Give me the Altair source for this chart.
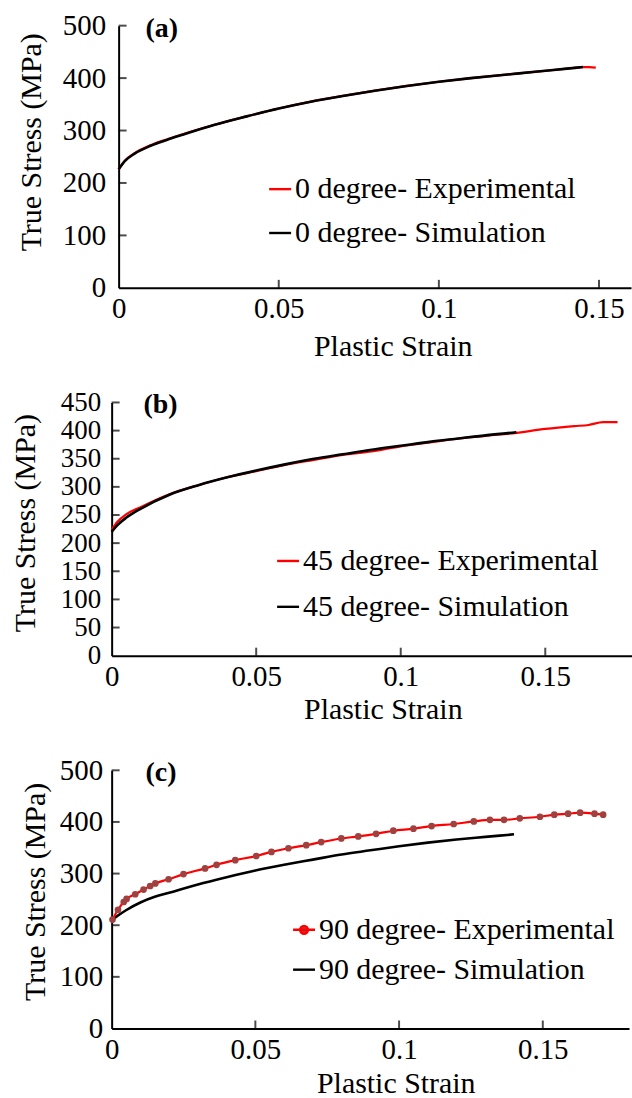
import altair as alt
import pandas as pd

FONT = "Liberation Serif"
RED = "#ff0000"
BLACK = "#000000"
MARKER = "#a0413f"

# ---------------- Panel (a) : 0 degree ----------------
A_EXP_X = [0, 0.002, 0.005, 0.01, 0.015, 0.02, 0.03, 0.04, 0.05, 0.06, 0.07, 0.08,
           0.09, 0.1, 0.11, 0.12, 0.13, 0.14, 0.145, 0.147, 0.149]
A_EXP_Y = [226, 243, 257, 272, 283, 293, 311, 327, 342, 355, 366, 376,
           385, 393, 400, 406, 412, 418, 421, 421, 420]
A_SIM_X = [0, 0.002, 0.005, 0.01, 0.015, 0.02, 0.03, 0.04, 0.05, 0.06, 0.07, 0.08,
           0.09, 0.1, 0.11, 0.12, 0.13, 0.14, 0.145]
A_SIM_Y = [226, 242, 256, 271, 282, 292, 311, 327, 342, 355, 366, 376,
           385, 393, 400, 406, 412, 418, 421]

# ---------------- Panel (b) : 45 degree ----------------
B_EXP_X = [0, 0.002, 0.005, 0.01, 0.02, 0.03, 0.04, 0.05, 0.06, 0.07, 0.08, 0.09,
           0.1, 0.11, 0.12, 0.13, 0.14, 0.15, 0.16, 0.165, 0.17, 0.175]
B_EXP_Y = [224, 238, 251, 264, 287, 303, 317, 328, 339, 348, 357, 363,
           372, 379, 386, 391, 396, 403, 408, 410, 415, 415]
B_SIM_X = [0, 0.002, 0.005, 0.01, 0.02, 0.03, 0.04, 0.05, 0.06, 0.07, 0.08, 0.09,
           0.1, 0.11, 0.12, 0.13, 0.14]
B_SIM_Y = [220, 232, 245, 261, 286, 303, 317, 329, 340, 350, 358, 366,
           373, 380, 386, 392, 397]

# ---------------- Panel (c) : 90 degree ----------------
C_EXP_X = [0.0003, 0.0022, 0.0042, 0.0052, 0.0082, 0.0111, 0.0134, 0.0152, 0.0198,
           0.025, 0.0325, 0.0365, 0.043, 0.0503, 0.0556, 0.0615, 0.0677, 0.0729,
           0.0799, 0.0858, 0.092, 0.098, 0.105, 0.1113, 0.119, 0.126, 0.1316,
           0.1365, 0.142, 0.149, 0.154, 0.1588, 0.163, 0.168, 0.171]
C_EXP_Y = [211, 230, 245, 251, 260, 269, 276, 281, 289,
           299, 310, 317, 326, 334, 342, 349, 355, 361,
           368, 372, 377, 383, 387, 392, 396, 401, 404,
           404, 407, 410, 414, 416, 418, 416, 414]
C_SIM_X = [0, 0.002, 0.005, 0.01, 0.015, 0.02, 0.03, 0.04, 0.05, 0.06, 0.07, 0.08,
           0.09, 0.1, 0.11, 0.12, 0.13, 0.14]
C_SIM_Y = [210, 218, 229, 244, 255, 263, 279, 293, 306, 317, 327, 337,
           345, 353, 360, 366, 371, 376]

X_TICKS = [0, 0.05, 0.1, 0.15]
Y_TICKS_500 = [0, 100, 200, 300, 400, 500]
Y_TICKS_450 = [0, 50, 100, 150, 200, 250, 300, 350, 400, 450]

LINE_PATH = "stroke"
MARKER_PATH = ("M-1,0H1M0.36,0A0.36,0.36,0,1,1,-0.36,0"
               "A0.36,0.36,0,1,1,0.36,0Z")


def legend(lx, ly, symbol, fill=None):
    kw = dict(orient="none", legendX=lx, legendY=ly, symbolType=symbol,
              symbolSize=484, symbolStrokeWidth=2.4, labelFont=FONT,
              labelFontSize=30, labelColor="black", labelOffset=0,
              labelLimit=600, padding=0)
    if fill:
        kw["symbolFillColor"] = fill
    return alt.Legend(**kw)


def panel(label, exp_x, exp_y, sim_x, sim_y, exp_name, sim_name, xdomain,
          yticks, width, height, xrange_start, yoffset, ylabpad, ytitle_x,
          ytitle_y, xtitle_x, xtitle_y, title_dx, leg_x, leg_y1, leg_y2,
          markers=False, ylabsize=29):
    exp_df = pd.DataFrame({"strain": exp_x, "stress": exp_y, "series": exp_name})
    sim_df = pd.DataFrame({"strain": sim_x, "stress": sim_y, "series": sim_name})
    xt = pd.DataFrame({"strain": [v for v in X_TICKS if v > 0], "stress": 0})
    yt = pd.DataFrame({"strain": 0, "stress": [v for v in yticks if v > 0]})

    if xrange_start:
        xscale = alt.Scale(domain=xdomain, range=[xrange_start, width], nice=False)
    else:
        xscale = alt.Scale(domain=xdomain, nice=False)
    xaxis = alt.Axis(values=X_TICKS, format="~g", ticks=False, tickSize=0,
                     grid=False, domainColor="black", domainWidth=2,
                     labelFont=FONT, labelFontSize=29, labelColor="black",
                     labelPadding=7, labelFlush=False, labelOverlap=False,
                     title="Plastic Strain", titleFont=FONT, titleFontSize=30,
                     titleFontWeight="normal", titleColor="black",
                     titleX=xtitle_x, titleY=xtitle_y, titleAlign="center",
                     titleBaseline="middle")
    yaxis_kw = dict(values=yticks, ticks=False, tickSize=0, grid=False,
                    domainColor="black", domainWidth=2, labelFont=FONT,
                    labelFontSize=ylabsize, labelColor="black", labelPadding=ylabpad,
                    labelFlush=False, labelOverlap=False,
                    title="True Stress (MPa)", titleFont=FONT, titleFontSize=30,
                    titleFontWeight="normal", titleColor="black",
                    titleX=ytitle_x, titleY=ytitle_y, titleAlign="center",
                    titleBaseline="middle")
    if yoffset:
        yaxis_kw["offset"] = yoffset
    yaxis = alt.Axis(**yaxis_kw)
    X = alt.X("strain:Q", scale=xscale, axis=xaxis)
    Y = alt.Y("stress:Q", scale=alt.Scale(domain=[0, yticks[-1]], nice=False), axis=yaxis)

    exp_line = alt.Chart(exp_df).mark_line(strokeWidth=2.2, interpolate="monotone").encode(
        x=X, y=Y,
        color=alt.Color("series:N", title=None,
                        scale=alt.Scale(domain=[exp_name], range=[RED]),
                        legend=legend(leg_x, leg_y1,
                                      MARKER_PATH if markers else LINE_PATH,
                                      MARKER if markers else None)))
    sim_line = alt.Chart(sim_df).mark_line(strokeWidth=2.6, interpolate="monotone").encode(
        x=X, y=Y,
        color=alt.Color("series:N", title=None,
                        scale=alt.Scale(domain=[sim_name], range=[BLACK]),
                        legend=legend(leg_x, leg_y2, LINE_PATH)))
    xtick = alt.Chart(xt).mark_tick(orient="vertical", size=8, thickness=2,
                                    color="black", yOffset=-4).encode(x=X, y=Y)
    ytick = alt.Chart(yt).mark_tick(orient="horizontal", size=8, thickness=2,
                                    color="black", xOffset=4).encode(x=X, y=Y)
    if markers:
        pts = alt.Chart(exp_df).mark_circle(size=45, color=MARKER, opacity=1).encode(x=X, y=Y)
        layers = [sim_line, exp_line, pts]
    else:
        layers = [exp_line, sim_line]
    layers += [xtick, ytick]
    return alt.layer(*layers).resolve_scale(color="independent").properties(
        width=width, height=height,
        title=alt.TitleParams(label, anchor="start", frame="group", dx=title_dx,
                              offset=-45, baseline="middle", font=FONT,
                              fontSize=28, fontWeight="bold", color="black"))


pa = panel("(a)", A_EXP_X, A_EXP_Y, A_SIM_X, A_SIM_Y,
           "0 degree- Experimental", "0 degree- Simulation", [0, 0.16],
           Y_TICKS_500, 521, 263, 7, -7, 13, -87, 116.5, 282, 59, 34,
           154, 149, 193)
pb = panel("(b)", B_EXP_X, B_EXP_Y, B_SIM_X, B_SIM_Y,
           "45 degree- Experimental", "45 degree- Simulation", [0, 0.18],
           Y_TICKS_450, 522, 254, 0, 0, 11, -86, 120.5, 272, 54, 32,
           162, 144, 190, ylabsize=27)
pc = panel("(c)", C_EXP_X, C_EXP_Y, C_SIM_X, C_SIM_Y,
           "90 degree- Experimental", "90 degree- Simulation", [0, 0.18],
           Y_TICKS_500, 519, 259, 0, 0, 9, -76, 121.5, 285, 55, 34,
           178, 145, 185, markers=True)

chart = alt.vconcat(pa, pb, pc, spacing=115, bounds="flush").configure_view(
    stroke=None).properties(padding={"left": 10, "top": 10, "right": 0, "bottom": 0})

chart.save("out.html", embed_options={"renderer": "svg", "actions": False})
